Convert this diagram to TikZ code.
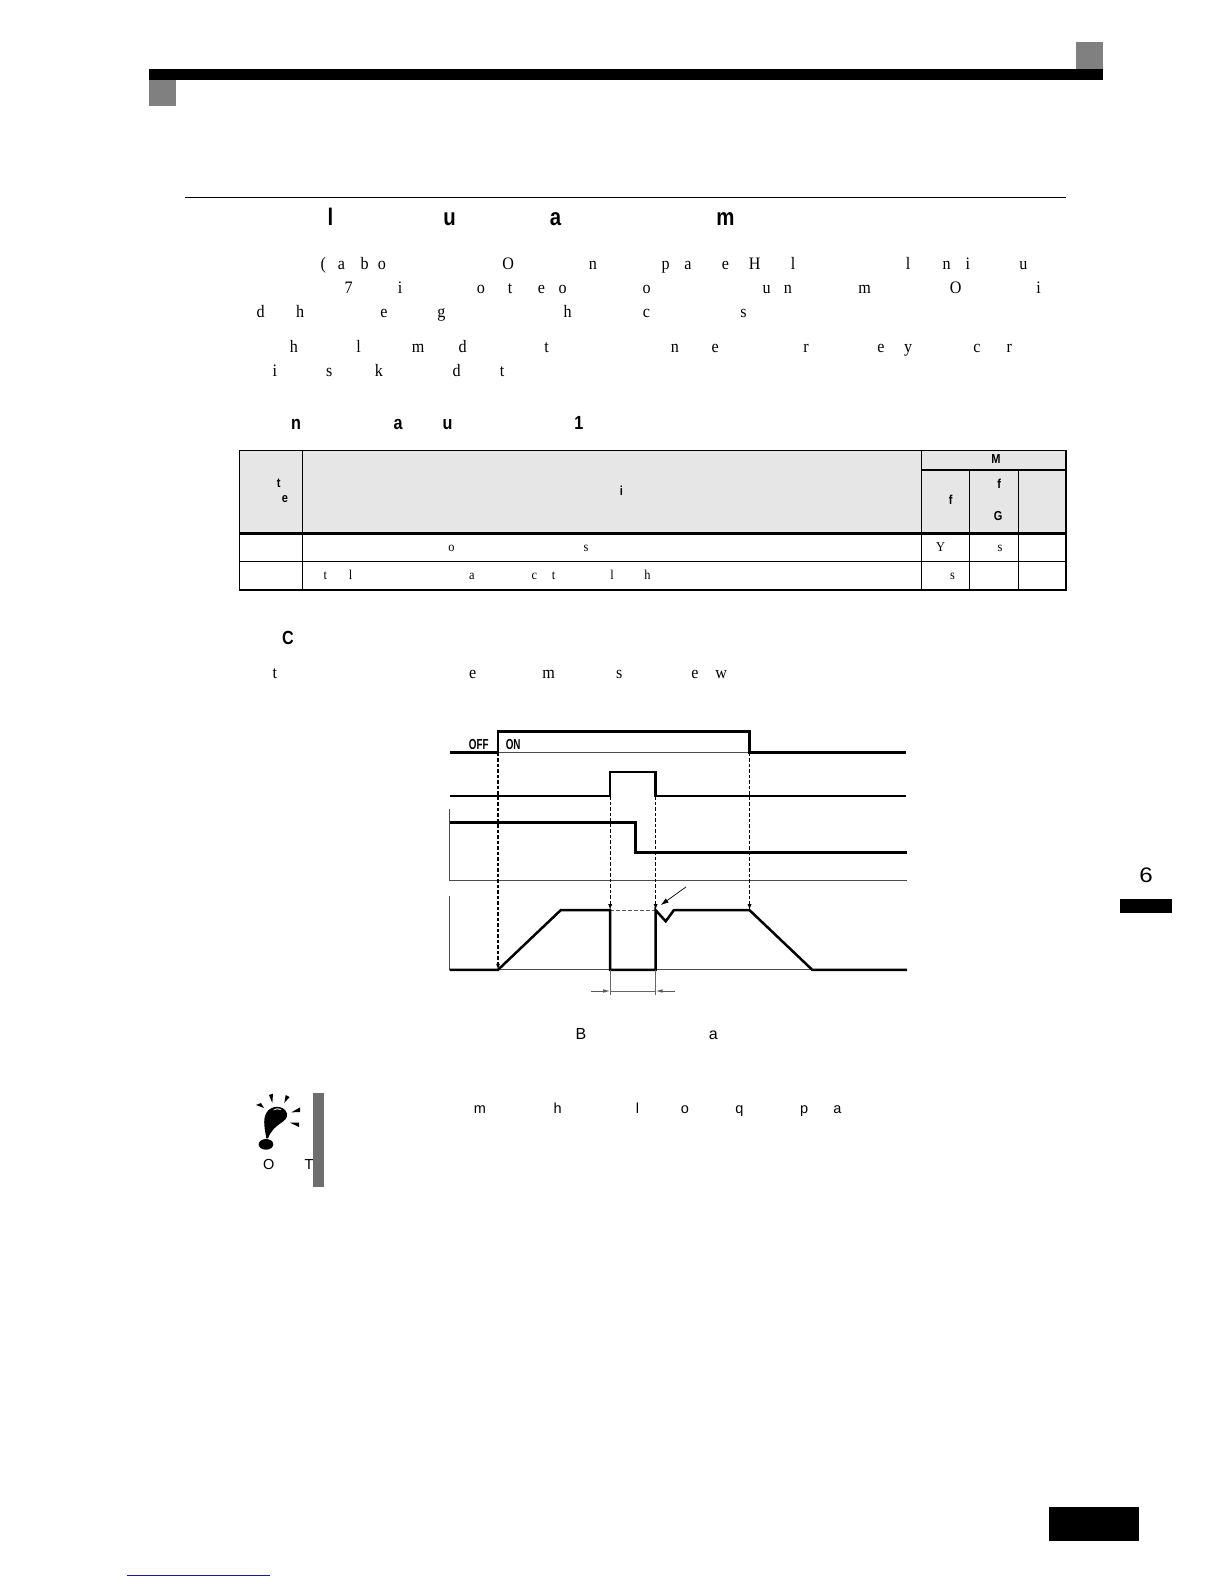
\documentclass[tikz,border=0pt]{standalone}
\usepackage{fontspec}
\setmainfont{Liberation Serif}
\setsansfont{Liberation Sans}
\usetikzlibrary{arrows.meta}
\definecolor{hdrgrey}{HTML}{808080}
\definecolor{barGrey}{HTML}{6E6E6E}
\definecolor{tblgrey}{HTML}{E6E6E6}
\definecolor{navyline}{HTML}{1A1A9A}
\tikzset{
  glyph/.style={anchor=base,inner sep=0pt,outer sep=0pt},
  titletxt/.style={glyph,font=\sffamily\bfseries\fontsize{24}{24}\selectfont,xscale=.85,transform shape},
  headtxt/.style={glyph,font=\sffamily\bfseries\fontsize{19}{19}\selectfont,xscale=.85,transform shape},
  bodytxt/.style={glyph,font=\fontsize{17.5}{17.5}\selectfont,xscale=.92,transform shape},
  tblhead/.style={glyph,font=\sffamily\bfseries\fontsize{13}{13}\selectfont,xscale=.85,transform shape},
  tblbody/.style={glyph,font=\fontsize{13.5}{13.5}\selectfont,xscale=.92,transform shape},
  captxt/.style={glyph,font=\sffamily\fontsize{16}{16}\selectfont},
  notetxt/.style={glyph,font=\sffamily\fontsize{14.5}{14.5}\selectfont},
  sigtxt/.style={glyph,font=\sffamily\bfseries\fontsize{14.5}{14.5}\selectfont,xscale=.68,transform shape},
  rulethin/.style={line width=.9pt},
  tblline/.style={line width=1.2pt},
  tblthick/.style={line width=2.4pt},
  sigline/.style={line width=2.5pt,line join=miter},
  sigthin/.style={line width=1pt,black!70},
  dashline/.style={line width=1.3pt,dash pattern=on 3.5pt off 2pt,-{Latex[length=6pt,width=4pt]}},
  dimline/.style={line width=.8pt,black!60},
  dimarrow/.style={line width=.8pt,black!65,-{Latex[length=7pt,width=3.5pt]}}
}
\newcommand{\lettersrow}[3]{%
  \foreach \xx/\tt in {#3}{\node[#2] (g#1-\xx) at (\xx,#1) {\tt};}}
\begin{document}
\begin{tikzpicture}[x=1.0102pt,y=-1.0102pt]
\useasboundingbox (0,0) rectangle (1211.6,1568);
% page header
\fill[hdrgrey] (1065,42) rectangle (1092,68);
\fill[hdrgrey] (147,79) rectangle (174,105);
\fill[black] (147,68) rectangle (1092,79);
\draw[rulethin] (183,195) -- (1055,195);
% headings and body
\lettersrow{223}{titletxt}{327/l,445/u,550/a,718/m}
\lettersrow{266.5}{bodytxt}{320/(,338/a,361/b,378/o,503/O,587/n,659/p,681/a,718/e,747/H,785/l,899/l,937/n,958/i,1013/u}
\lettersrow{290.5}{bodytxt}{345/7,396/i,476/o,505/t,536/e,557/o,640/o,759/u,780/n,856/m,946/O,1028/i}
\lettersrow{314.5}{bodytxt}{258/d,297/h,380/e,437/g,562/h,640/c,736/s}
\lettersrow{348.5}{bodytxt}{291/h,355/l,414/m,458/d,541/t,668/n,708/e,798/r,872/e,899/y,967/c,999/r}
\lettersrow{372.5}{bodytxt}{272/i,326/s,375/k,452/d,497/t}
\lettersrow{425}{headtxt}{293/n,394/a,443/u,573/1}
% table
\fill[tblgrey] (237,446) rectangle (1055,528);
\draw[tblline] (299.5,446) -- (299.5,584);
\draw[tblline] (912,446) -- (912,584);
\draw[tblline] (960,465) -- (960,584);
\draw[tblline] (1008,465) -- (1008,584);
\draw[tblthick] (912,465) -- (1055,465);
\draw[tblthick] (237,528) -- (1055,528);
\draw[tblline] (237,556) -- (1055,556);
\draw[line width=1.6pt] (237,446) rectangle (1055,584);
\lettersrow{459}{tblhead}{986/M}
\lettersrow{484}{tblhead}{989/f}
\lettersrow{483}{tblhead}{276/t}
\lettersrow{497}{tblhead}{282/e}
\lettersrow{490}{tblhead}{615/i}
\lettersrow{499}{tblhead}{941/f}
\lettersrow{515}{tblhead}{988/G}
\lettersrow{546}{tblbody}{447/o,580/s,931/Y,990/s}
\lettersrow{574}{tblbody}{322/t,347/l,467/a,529/c,548/t,606/l,641/h,943/s}
\lettersrow{638}{headtxt}{285/C}
\lettersrow{671.5}{bodytxt}{272/t,468/e,543/m,613/s,688/e,714/w}
% timing chart
\node[sigtxt] (off) at (474,741.5) {OFF};
\node[sigtxt] (on) at (508,741.5) {ON};
\draw[sigthin] (493,745) -- (742,745);
\draw[sigthin] (445,872) -- (898,872);
\draw[sigthin] (445,801) -- (445,872);
\draw[sigthin] (445,887) -- (445,960);
\draw[sigthin] (493,960) -- (804,960);
\draw[dashline] (493,745) -- (493,960);
\draw[dashline] (604,788) -- (604,901);
\draw[dashline] (649,788) -- (649,901);
\draw[dashline] (742,745) -- (742,901);
\draw[line width=1.4pt,black!65,dash pattern=on 4pt off 2pt] (604,901) -- (649,901);
\draw[sigline] (445,745) -- (493,745) -- (493,724) -- (742,724) -- (742,745) -- (897,745);
\draw[sigline] (445,788) -- (604,788) -- (604,764) -- (649,764) -- (649,788) -- (897,788);
\draw[sigline] (445,814) -- (629,814) -- (629,844) -- (898,844);
\draw[sigline] (445,960) -- (493,960) -- (555,901) -- (604,901) -- (604,960) -- (649,960) -- (649,901) -- (659,912) -- (667,901) -- (742,901) -- (804,960) -- (898,960);
\draw[line width=.7pt,black,-{Latex[length=8pt,width=5pt]}] (679,878) -- (654,896);
\draw[dimline] (604,960) -- (604,985);
\draw[dimline] (649,960) -- (649,985);
\draw[dimline] (604,981) -- (649,981);
\draw[dimarrow] (585,981) -- (604,981);
\draw[dimarrow] (668,981) -- (649,981);
\lettersrow{1029}{captxt}{575/B,706/a}
% note
\lettersrow{1158}{notetxt}{266/O,306/T}
\fill[barGrey] (310,1082) rectangle (321,1175);
\lettersrow{1102}{notetxt}{475/m,552/h,631/l,678/o,732/q,796/p,829/a}
\begin{scope}[shift={(245pt,-1075pt)},x=.3333pt,y=-.3333pt]
  \fill[black] (64,190) .. controls (60,165) and (52,135) .. (64,114) .. controls (76,90) and (118,88) .. (126,116) .. controls (130,145) and (88,140) .. (69,190) -- cycle;
  \fill[white] (84,106) .. controls (92,98) and (102,98) .. (110,105) .. controls (100,102) and (92,102) .. (84,106) -- cycle;
  \fill[black] (63,208) ellipse [x radius=22,y radius=16];
  \fill[black] (33,90) -- (48,84) -- (57,99) -- cycle;
  \fill[black] (72,60) -- (84,56) -- (82,84) -- cycle;
  \fill[black] (122,60) -- (134,66) -- (118,84) -- cycle;
  \fill[black] (165,97) -- (165,111) -- (139,112) -- cycle;
  \fill[black] (135,143) -- (162,143) -- (162,156) -- cycle;
\end{scope}
% side tab and page footer
\node[glyph,font=\sffamily\fontsize{21}{21}\selectfont,xscale=1.15,transform shape] (tab) at (1134.5,874) {6};
\fill[black] (1109,890) rectangle (1160.5,903.5);
\fill[black] (1038,1492) rectangle (1127,1525);
\draw[navyline,line width=1.6pt] (126,1559.5) -- (267,1559.5);
\end{tikzpicture}
\end{document}
